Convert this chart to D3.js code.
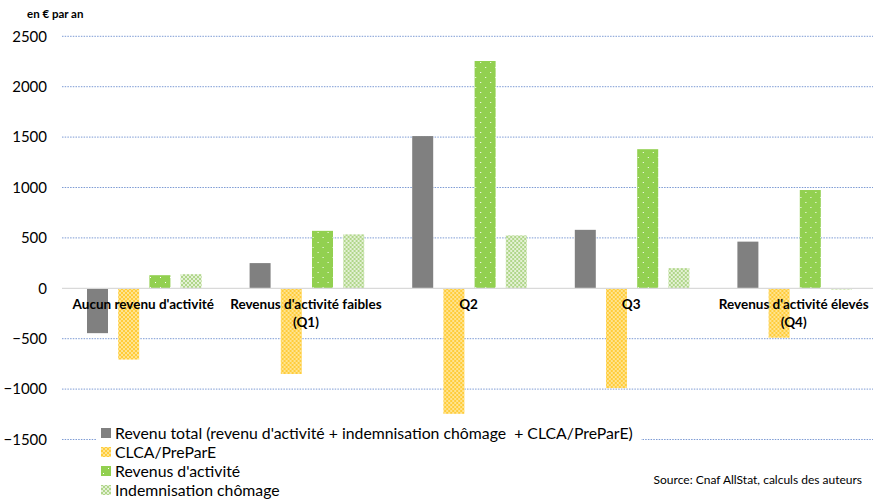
<!DOCTYPE html>
<html><head><meta charset="utf-8">
<script src="https://cdn.jsdelivr.net/npm/d3@7"></script>
<style>body{margin:0;background:#fff;} svg{display:block;font-family:Lato,"Open Sans",sans-serif;} .pre{white-space:pre;}</style>
</head><body>
<script>
const categories = [["Aucun revenu d'activité"], ["Revenus d'activité faibles", "(Q1)"], ["Q2"], ["Q3"], ["Revenus d'activité élevés", "(Q4)"]];
const seriesNames = ["Revenu total (revenu d'activité + indemnisation chômage  + CLCA/PreParE)", "CLCA/PreParE", "Revenus d'activité", "Indemnisation chômage"];
const revenuTotal = [-445, 250, 1510, 580, 463];
const clcaPrepare = [-707, -850, -1245, -990, -490];
const revenusActivite = [130, 570, 2255, 1380, 975];
const indemnisation = [140, 535, 525, 200, -12];
const yTicks = [-1500, -1000, -500, 0, 500, 1000, 1500, 2000, 2500];

const W = 873, H = 501;
const svg = d3.select("body").append("svg").attr("width", W).attr("height", H);
const defs = svg.append("defs");

// patterns
const pY = defs.append("pattern").attr("id","pY").attr("patternUnits","userSpaceOnUse").attr("width",4).attr("height",4);
pY.append("rect").attr("width",4).attr("height",4).attr("fill","#ffcc3a");
pY.append("rect").attr("x",0).attr("y",0).attr("width",2).attr("height",2).attr("fill","#ffe490");
pY.append("rect").attr("x",2).attr("y",2).attr("width",2).attr("height",2).attr("fill","#ffe490");

const pG = defs.append("pattern").attr("id","pG").attr("patternUnits","userSpaceOnUse").attr("width",10).attr("height",10);
pG.append("rect").attr("width",10).attr("height",10).attr("fill","#92d050");
pG.append("rect").attr("x",2).attr("y",2).attr("width",1).attr("height",1).attr("fill","#ffffff");
pG.append("rect").attr("x",7).attr("y",7).attr("width",1).attr("height",1).attr("fill","#ffffff");

const pL = defs.append("pattern").attr("id","pL").attr("patternUnits","userSpaceOnUse").attr("width",4).attr("height",4);
pL.append("rect").attr("width",4).attr("height",4).attr("fill","#b0d68a");
pL.append("rect").attr("x",0).attr("y",0).attr("width",2).attr("height",2).attr("fill","#e4f1d5");
pL.append("rect").attr("x",2).attr("y",2).attr("width",2).attr("height",2).attr("fill","#e4f1d5");

const fills = ["#808080", "url(#pY)", "url(#pG)", "url(#pL)"];
const seriesData = [revenuTotal, clcaPrepare, revenusActivite, indemnisation];

const x0 = d3.scaleBand().domain(d3.range(categories.length)).range([63, 876]).padding(0);
const inner = 24;
const x1 = d3.scaleBand().domain(d3.range(4)).range([inner, x0.bandwidth() - inner]).paddingInner(0.327).paddingOuter(0);
const y = d3.scaleLinear().domain([-1500, 2500]).range([439.5, 36.3]);

// gridlines
svg.append("g").selectAll("line").data(yTicks.filter(d => d !== 0)).join("line")
  .attr("x1", 62).attr("x2", 873).attr("y1", d => y(d)).attr("y2", d => y(d))
  .attr("stroke", "#7d9bd4").attr("stroke-width", 1).attr("stroke-dasharray", "1.5,1.2");

// y labels
const yAxis = d3.axisLeft(y).tickValues(yTicks).tickSize(0).tickPadding(0).tickFormat(d3.format("d"));
const ga = svg.append("g").attr("transform", "translate(47,0)").call(yAxis);
ga.select(".domain").remove();
ga.selectAll("text").attr("font-size", 15).attr("fill", "#000").attr("font-family", "Lato, sans-serif");

// bars
const groups = svg.append("g").selectAll("g").data(categories).join("g")
  .attr("transform", (d, i) => `translate(${x0(i)},0)`);
groups.each(function(c, i) {
  d3.select(this).selectAll("rect").data(seriesData.map((s, k) => ({k, v: s[i]}))).join("rect")
    .attr("x", d => x1(d.k)).attr("width", x1.bandwidth())
    .attr("y", d => y(Math.max(0, d.v))).attr("height", d => Math.abs(y(d.v) - y(0)))
    .attr("fill", d => fills[d.k]);
});

// zero line
svg.append("line").attr("x1", 62).attr("x2", 873).attr("y1", y(0)).attr("y2", y(0))
  .attr("stroke", "#d9d9d9").attr("stroke-width", 1.2);

// category labels
const lab = svg.append("g").selectAll("text").data(categories).join("text")
  .attr("x", (d, i) => x0(i) + x0.bandwidth() / 2 - 1).attr("y", 309)
  .attr("text-anchor", "middle").attr("font-size", 13.5).attr("font-weight", "bold").attr("fill", "#000");
lab.selectAll("tspan").data(d => d).join("tspan")
  .attr("x", function() { return d3.select(this.parentNode).attr("x"); })
  .attr("dy", (d, j) => j === 0 ? 0 : 18).text(d => d);

// title
svg.append("text").attr("x", 27).attr("y", 18).attr("font-size", 11.5).attr("font-weight", "bold").text("en € par an");

// legend
const lg = svg.append("g");
lg.append("rect").attr("x", 96).attr("y", 424).attr("width", 545).attr("height", 77).attr("fill", "#fff");
const li = lg.selectAll("g").data(seriesNames).join("g").attr("transform", (d, i) => `translate(101,${433 + i * 19})`);
li.append("rect").attr("x", 0).attr("y", -5).attr("width", 10).attr("height", 10).attr("fill", (d, i) => fills[i]);
li.append("text").attr("class", "pre").attr("x", 14).attr("y", 5.5).attr("font-size", 15.8).attr("fill", "#000").text(d => d);

// source
svg.append("text").attr("x", 862).attr("y", 484).attr("text-anchor", "end").attr("font-size", 12).text("Source: Cnaf AllStat, calculs des auteurs");
</script>
</body></html>
